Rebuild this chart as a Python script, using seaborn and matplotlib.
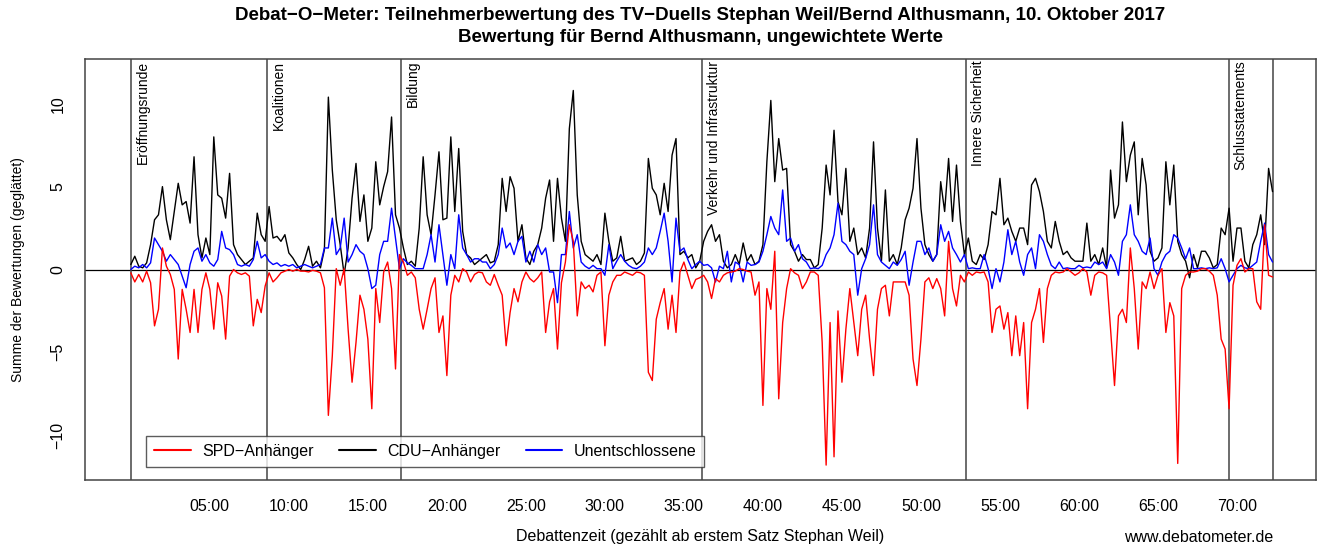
import numpy as np
import pandas as pd
import matplotlib
matplotlib.use('Agg')
import matplotlib.pyplot as plt
from matplotlib.lines import Line2D
import seaborn as sns

###########################################################################################
# Data (gelesen aus der Grafik, ein Wert pro Viertelminute, 4 Werte pro Zeile = 1 Minute)
###########################################################################################

cdu = [
    0.3, 0.8, 0.2, 0.1,  0.4, 1.5, 3.0, 3.3,  5.0, 3.0, 1.8, 3.5,
    5.2, 3.9, 4.1, 2.8,  6.8, 2.1, 0.7, 1.9,  0.9, 8.0, 4.5, 4.3,
    3.1, 5.8, 1.5, 0.9,  0.6, 0.3, 0.5, 0.7,  3.4, 2.1, 1.7, 3.8,
    1.9, 2.0, 1.7, 2.1,  1.0, 0.7, 0.3, 0.0,  0.6, 1.4, 0.2, 0.5,
    0.1, 1.2, 10.4, 6.0, 3.0, 1.5, -0.3, 1.3, 4.3, 6.4, 2.9, 4.5,
    1.7, 2.5, 6.5, 3.9,  5.0, 5.9, 9.2, 3.3,  2.5, 1.3, 0.3, 0.5,
    0.2, 2.5, 6.8, 3.3,  2.1, 4.5, 7.1, 3.0,  3.1, 8.0, 3.5, 7.3,
    2.3, 0.9, 0.7, 0.3,  0.5, 0.7, 0.9, 0.4,  0.5, 1.5, 5.5, 3.5,
    5.6, 4.9, 1.7, 2.7,  0.7, 0.3, 1.1, 1.5,  2.5, 4.3, 5.4, 1.7,
    5.5, 3.1, 1.7, 8.5,  10.8, 4.5, 1.7, 0.9, 0.7, 0.5, 0.9, 0.3,
    3.4, 1.7, 0.5, 0.7,  2.0, 0.5, 0.6, 0.7,  0.3, 0.5, 1.0, 6.7,
    4.9, 4.5, 3.3, 5.2,  3.5, 6.9, 7.9, 0.9,  1.1, 0.7, 0.9, 0.1,
    0.5, 1.7, 2.3, 2.7,  1.7, 2.1, 0.5, 0.1,  0.3, 0.9, 0.3, 1.6,
    0.5, 0.9, 0.3, 0.5,  1.5, 6.5, 10.2, 5.3, 7.9, 6.0, 6.1, 1.5,
    1.1, 0.5, 0.9, 0.6,  0.6, 0.1, 0.3, 2.5,  6.3, 4.5, 8.4, 4.1,
    3.3, 6.1, 1.7, 2.5,  0.9, 1.3, 0.7, 2.5,  7.7, 2.5, 0.5, 4.8,
    0.5, 0.9, 0.3, 1.3,  3.0, 3.7, 4.9, 7.9,  3.7, 1.5, 0.9, 0.5,
    0.9, 5.3, 3.5, 6.7,  2.9, 6.3, 2.9, 0.9,  1.9, 0.5, 0.3, 0.9,
    0.6, 1.5, 3.5, 3.3,  5.5, 2.7, 3.1, 2.3,  1.7, 2.5, 2.5, 1.5,
    5.1, 5.5, 4.7, 3.5,  1.7, 1.3, 2.9, 1.7,  0.9, 1.1, 0.7, 0.5,
    0.5, 0.5, 2.8, 0.5,  0.9, 0.3, 1.3, 0.1,  6.0, 3.1, 3.9, 8.9,
    5.3, 6.9, 7.7, 3.3,  6.7, 5.1, 1.1, 0.5,  0.7, 1.3, 6.5, 3.9,
    6.3, 1.7, 0.9, 0.5,  -0.5, 0.9, 0.1, 1.1, 1.1, 0.7, 0.1, 0.3,
    2.5, 2.1, 3.7, 0.5,  2.5, 2.5, 0.5, 0.1,  1.5, 2.1, 3.3, 1.5,
    6.1, 4.7,
]

spd = [
    -0.2, -0.75, -0.3, -0.75,  -0.1, -0.8, -3.4, -2.4,  1.3, 0.2, -0.3, -1.2,
    -5.4, -1.2, -2.4, -3.8,  -1.2, -3.8, -1.2, -0.2,  -1.2, -3.6, -0.8, -1.6,
    -4.2, -0.4, 0.0, -0.2,  -0.3, -0.2, -0.4, -3.4,  -1.8, -2.6, -1.0, -0.2,
    -0.75, -0.5, -0.2, -0.1,  0.0, -0.1, 0.0, -0.1,  -0.1, -0.15, -0.05, -0.1,
    -0.2, -1.1, -8.8, -5.2,  0.05, -0.95, 0.05, -3.6,  -6.8, -4.4, -1.55, -2.4,
    -4.2, -8.4, -1.15, -3.2,  -0.15, 0.45, -1.15, -6.0,  0.9, 0.45, -0.35, -0.15,
    -0.5, -2.4, -3.6, -2.4,  -1.15, -0.5, -3.8, -2.8,  -6.4, -1.55, -0.35, -0.75,
    0.05, -0.15, -0.75, -0.3,  -0.15, -0.2, -0.75, -0.95,  -0.3, -0.95, -1.55, -4.6,
    -2.6, -1.15, -1.95, -0.75,  -0.15, -0.55, -0.75, -0.5,  -0.15, -3.8, -1.95, -1.15,
    -4.8, -0.8, 0.45, 2.7,  1.7, -2.8, -0.75, -1.15,  -0.95, -1.35, -0.35, -0.15,
    -4.6, -1.55, -0.75, -0.35,  -0.35, -0.15, -0.25, -0.35,  -0.15, -0.2, -0.35, -6.2,
    -6.7, -3.0, -2.0, -1.15,  -3.6, -1.55, -3.8, -0.15,  0.45, -0.35, -1.15, -0.6,
    -0.5, -0.35, -0.75, -1.75,  -0.55, -0.75, -0.35, -0.2,  -0.15, -0.1, 0.05, 0.0,
    -0.1, -0.15, -1.55, -0.75,  -8.2, -1.15, -2.4, 1.1,  -7.8, -3.2, -1.15, 0.05,
    -0.2, -0.35, -1.15, -0.75,  -0.15, -0.15, -0.35, -4.4,  -11.8, -3.2, -11.3, -2.5,
    -6.8, -3.6, -1.15, -3.2,  -5.2, -2.4, -1.55, -4.2,  -6.4, -2.4, -1.15, -0.95,
    -2.8, -0.75, -0.75, -0.75,  -0.75, -1.55, -5.4, -7.0,  -4.2, -0.75, -0.5, -1.15,
    -0.55, -1.15, -2.8, 1.7,  -1.15, -2.2, -0.35, -0.75,  -0.15, -0.35, -0.15, -0.2,
    -0.15, -0.75, -3.8, -2.4,  -2.2, -3.6, -2.6, -5.2,  -2.8, -5.2, -3.2, -8.4,
    -3.2, -2.4, -1.15, -4.4,  -1.15, -0.35, -0.15, -0.2,  -0.15, 0.05, -0.15, -0.35,
    -0.2, 0.05, -0.15, -1.55,  -0.35, -0.15, -0.2, -0.35,  -3.6, -7.0, -2.8, -2.4,
    -3.2, 1.3, -1.15, -4.8,  -0.75, -1.15, -0.15, -1.15,  -0.35, 0.05, -3.8, -2.0,
    -2.8, -11.7, -1.15, -0.35,  -0.15, -0.15, -0.1, 0.05,  0.05, -0.1, -0.35, -1.55,
    -4.2, -4.8, -8.4, -0.95,  0.25, 0.65, -0.15, 0.05,  0.05, -1.95, -2.4, 2.7,
    -0.35, -0.45,
]

unentschlossen = [
    0.0, 0.2, 0.1, 0.3,  0.1, 0.4, 1.9, 1.5,  1.1, 0.5, 0.9, 0.6,
    0.3, -0.4, -1.1, 0.3,  1.1, 1.3, 0.5, 0.9,  0.4, 0.2, 0.6, 2.3,
    1.3, 1.2, 0.9, 0.3,  0.2, 0.3, 0.2, 0.6,  1.7, 0.7, 0.9, 0.5,
    0.3, 0.4, 0.2, 0.3,  0.2, 0.3, 0.1, 0.2,  0.3, 0.2, 0.1, 0.2,
    0.3, 1.3, 1.3, 3.1,  0.9, 1.3, 3.1, 0.45,  0.9, 1.5, 1.1, 0.9,
    0.05, -1.15, -0.95, 0.9,  1.7, 1.7, 3.7, 1.9,  0.05, 0.65, 0.4, 0.25,
    0.05, 0.05, 0.05, 0.9,  2.1, 0.45, 2.7, 0.9,  -0.95, 0.9, 0.05, 3.3,
    1.3, 0.9, 0.45, 0.65,  0.65, 0.45, 0.45, 0.05,  0.3, 0.9, 2.5, 1.3,
    1.6, 0.9, 1.7, 2.0,  0.45, 1.1, 0.45, 1.5,  0.9, 1.3, -0.15, -0.15,
    -2.0, 0.9, 0.9, 3.5,  1.3, 2.1, 0.45, 0.2,  0.05, 0.25, 0.05, 0.05,
    -0.35, 1.5, 0.05, 0.5,  0.9, 0.5, 0.25, 0.1,  0.05, 0.2, 0.45, 1.3,
    0.9, 1.3, 2.3, 3.4,  1.7, -0.75, 3.1, 1.1,  1.3, 0.6, 0.05, 0.3,
    0.5, 0.25, 0.3, 0.1,  -0.75, 0.2, 0.05, 1.1,  -0.75, 0.45, 0.3, -0.75,
    0.45, 0.25, 0.3, 0.45,  1.1, 2.1, 3.2, 2.5,  2.1, 4.8, 1.7, 1.9,
    1.1, 1.5, 0.65, 0.45,  0.05, 0.1, 0.05, 0.25,  0.9, 1.3, 2.1, 4.0,
    1.7, 1.5, 1.1, 0.9,  -1.55, 0.05, 0.65, 1.5,  3.9, 0.9, 0.45, 0.25,
    0.05, 0.45, 0.25, 0.6,  1.1, -0.95, 0.45, 1.7,  1.7, 0.9, 1.3, 0.5,
    0.9, 2.7, 1.7, 2.3,  1.3, 0.9, 0.45, 0.9,  0.05, 0.1, 0.05, 0.05,
    0.9, 0.05, -1.15, 0.05,  -0.75, 0.45, 2.4, 0.9,  1.7, 0.45, -0.35, 0.9,
    1.3, 0.05, 2.1, 1.7,  0.9, 0.25, 0.05, 0.45,  0.05, 0.1, 0.05, 0.05,
    0.25, 0.1, 0.15, 0.1,  0.45, 0.3, 0.45, 0.05,  0.9, 0.45, -0.35, 1.7,
    2.1, 3.9, 2.1, 1.7,  1.1, 0.9, 1.9, 0.05,  -0.35, 0.45, 0.9, 1.1,
    2.1, 1.9, 1.3, 0.65,  1.3, 0.05, 0.05, 0.1,  0.05, 0.1, 0.05, 0.1,
    0.65, 0.05, -0.75, -0.35,  0.05, 0.25, 0.1, 0.05,  0.25, 0.45, 1.7, 2.8,
    0.9, 0.45,
]

# Themenblöcke (Beginn in Minuten) und Ende der Debatte
themen = ['Eröffnungsrunde', 'Koalitionen', 'Bildung', 'Verkehr und Infrastruktur',
          'Innere Sicherheit', 'Schlusstatements']
themen_start = [0.0, 8.6, 17.1, 36.15, 52.85, 69.5]
debatte_ende = 72.3

gruppen = ['SPD\u2212Anhänger', 'CDU\u2212Anhänger', 'Unentschlossene']
farben = ['#ff0000', '#000000', '#0000ff']

tick_min = list(range(5, 75, 5))
tick_labels = ['%02d:00' % m for m in tick_min]

###########################################################################################
# Plot
###########################################################################################

sns.set_style('white')
plt.rcParams['font.family'] = ['Liberation Sans', 'DejaVu Sans']
plt.rcParams['text.color'] = 'black'
plt.rcParams['xtick.color'] = 'black'
plt.rcParams['ytick.color'] = 'black'

zeit = np.arange(len(cdu)) * 0.25
df = pd.concat([
    pd.DataFrame({'zeit': zeit, 'wert': cdu, 'gruppe': gruppen[1]}),
    pd.DataFrame({'zeit': zeit, 'wert': unentschlossen, 'gruppe': gruppen[2]}),
    pd.DataFrame({'zeit': zeit, 'wert': spd, 'gruppe': gruppen[0]}),
])

fig = plt.figure(figsize=(13.25, 5.49), dpi=100)
ax = fig.add_axes([85 / 1325, 69 / 549, 1231 / 1325, 421 / 549])

# Null-Linie und Themenblöcke
ax.axhline(0, color='black', lw=0.9, zorder=1)
for t in themen_start + [debatte_ende]:
    ax.axvline(t, color='#444444', lw=1.1, zorder=1)
for name, t in zip(themen, themen_start):
    ax.text(t + 0.3, 12.6, name, rotation=90, ha='left', va='top', fontsize=10)

sns.lineplot(data=df, x='zeit', y='wert', hue='gruppe',
             hue_order=[gruppen[1], gruppen[2], gruppen[0]],
             palette=dict(zip(gruppen, farben)), estimator=None, sort=False,
             lw=1.0, legend=False, ax=ax, zorder=2)

ax.set_xlim(-2.9, 75.0)
ax.set_ylim(-12.7, 12.7)
ax.set_xticks(tick_min)
ax.set_xticklabels(tick_labels, fontsize=11.5)
ax.set_yticks([-10, -5, 0, 5, 10])
ax.set_yticklabels(['\u221210', '\u22125', '0', '5', '10'], fontsize=11.5, rotation=90, va='center')
ax.tick_params(direction='out', length=5, width=0.9, color='#444444', pad=9)
ax.set_xlabel('')
ax.set_ylabel('')
for s in ax.spines.values():
    s.set_color('#444444')
    s.set_linewidth(1.1)

# Legende
handles = [Line2D([0], [0], color=c, lw=1.5) for c in farben]
leg = ax.legend(handles, gruppen, loc='lower left', bbox_to_anchor=(0.0496, 0.031),
                ncol=3, fontsize=11.5, frameon=True, fancybox=False, borderaxespad=0,
                handlelength=2.3, handletextpad=0.7, columnspacing=1.6, borderpad=0.5)
leg.get_frame().set_edgecolor('#333333')
leg.get_frame().set_linewidth(1.0)
leg.set_zorder(5)

# Titel und Beschriftungen
fig.text(700 / 1325, 1 - 16 / 549,
         'Debat\u2212O\u2212Meter: Teilnehmerbewertung des TV\u2212Duells Stephan Weil/Bernd Althusmann, 10. Oktober 2017',
         ha='center', va='center', fontsize=13.5, fontweight='bold')
fig.text(700 / 1325, 1 - 37 / 549, 'Bewertung für Bernd Althusmann, ungewichtete Werte',
         ha='center', va='center', fontsize=13.5, fontweight='bold')
fig.text(18 / 1325, 1 - 270 / 549, 'Summe der Bewertungen (geglättet)',
         rotation=90, ha='center', va='center', fontsize=10)
fig.text(700 / 1325, 1 - 537 / 549, 'Debattenzeit (gezählt ab erstem Satz Stephan Weil)',
         ha='center', va='center', fontsize=11.5)
fig.text(1273 / 1325, 1 - 537 / 549, 'www.debatometer.de',
         ha='right', va='center', fontsize=11.5)

plt.savefig('out.png', dpi=100)
plt.close('all')
